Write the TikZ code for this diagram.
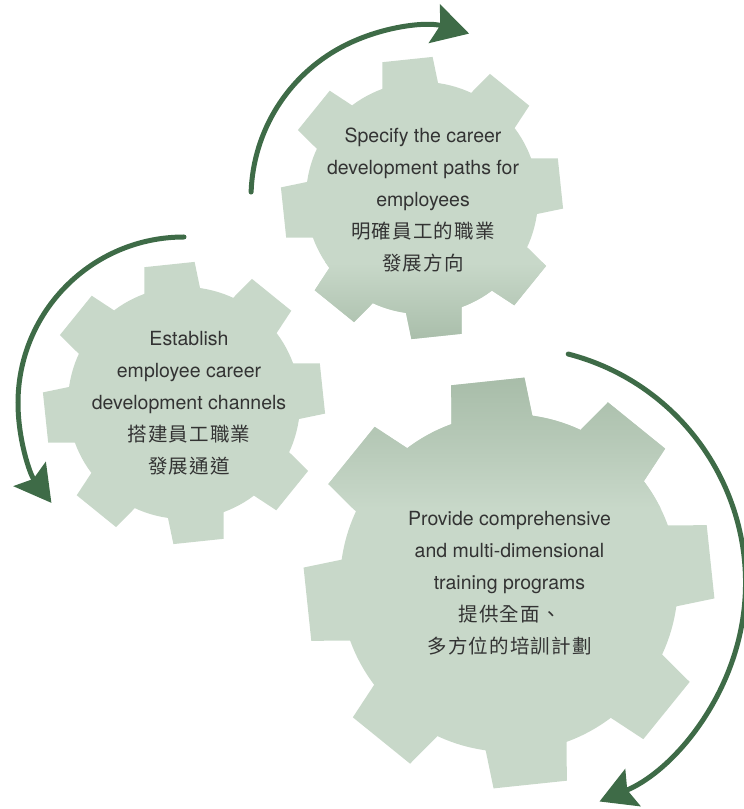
\documentclass[tikz,border=0pt]{standalone}
\usepackage{fontspec}
\setmainfont{TeX Gyre Heros}
\newfontfamily\cjk[LetterSpace=6]{Noto Sans CJK TC}
\usetikzlibrary{arrows.meta}
\definecolor{gearfill}{HTML}{C8D8C9}
\definecolor{geardark}{HTML}{A6BBA7}
\definecolor{arrowgreen}{HTML}{3E6B47}
\definecolor{txtgray}{HTML}{333333}
\newcommand\gearoutline[1]{(0,0) circle[radius={0.82*#1}] foreach \a in {6,51,96,141,186,231,276,321}{({\a-15}:{0.78*#1}) -- ({\a-10.3}:{#1}) -- ({\a+10.3}:{#1}) -- ({\a+15}:{0.78*#1}) -- cycle}}
\tikzset{
  gearlabel/.style={align=center, text=txtgray, font=\fontsize{19.5}{32}\selectfont, inner sep=0pt},
  cyclearrow/.style={draw=arrowgreen, line width=5pt, line cap=round, -{Stealth[length=36pt,width=40pt,inset=6pt]}},
}
\begin{document}
\begin{tikzpicture}[x=1pt,y=1pt]
\useasboundingbox (0,0) rectangle (744,809);
\coordinate (g1) at (422,611);
\coordinate (g2) at (184,406);
\coordinate (g3) at (509,226);
% top gear
\begin{scope}[shift={(g1)}]
  \fill[gearfill] \gearoutline{141.5};
  \begin{scope}
    \clip \gearoutline{141.5};
    \shade[top color=gearfill, bottom color=geardark] (-150,-65) rectangle (150,-150);
  \end{scope}
\end{scope}
% left gear
\begin{scope}[shift={(g2)}]
  \fill[gearfill] \gearoutline{141.5};
\end{scope}
% big gear
\begin{scope}[shift={(g3)}]
  \fill[gearfill] \gearoutline{206};
  \begin{scope}
    \clip \gearoutline{206};
    \shade[top color=geardark, bottom color=gearfill, middle color=geardark!55!gearfill] (-220,215) rectangle (220,75);
  \end{scope}
\end{scope}
% texts
\node[gearlabel] (t1) at (423,609) {Specify the career\\development paths for\\employees\\{\cjk 明確員工的職業}\\{\cjk 發展方向}};
\node[gearlabel] (t2) at (189,406) {Establish\\employee career\\development channels\\{\cjk 搭建員工職業}\\{\cjk 發展通道}};
\node[gearlabel] (t3) at (509.5,226) {Provide comprehensive\\and multi-dimensional\\training programs\\{\cjk 提供全面、}\\{\cjk 多方位的培訓計劃}};
% arrows
\coordinate (a1s) at ([shift={(178:171)}]g1);
\coordinate (a2s) at ([shift={(90:166)}]g2);
\coordinate (a3s) at ([shift={(75.5:236.5)}]g3);
\draw[cyclearrow] (a1s) arc[start angle=178, end angle=74, radius=171];
\draw[cyclearrow] (a2s) arc[start angle=90, end angle=217, radius=166];
\draw[cyclearrow] (a3s) arc[start angle=75.5, end angle=-67.5, radius=236.5];
\end{tikzpicture}
\end{document}
